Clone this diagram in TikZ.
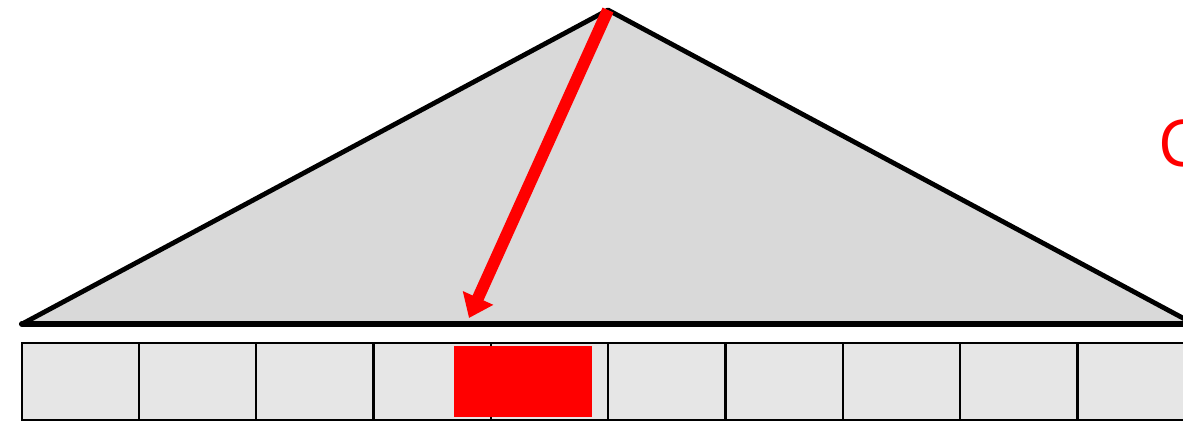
\documentclass[tikz,border=0pt]{standalone}
\usepackage{fontspec}
\setmainfont{Open Sans}
\usepackage{xcolor}
\usetikzlibrary{arrows.meta, positioning, calc}

\definecolor{cellgray}{HTML}{E6E6E6}
\definecolor{treegray}{HTML}{D9D9D9}

\begin{document}
\begin{tikzpicture}[
  x=0.025cm,
  y=-0.025cm,
  cell/.style={
    rectangle,
    draw,
    line width=1.7pt,
    fill=cellgray,
    anchor=north west,
    minimum width=2.933cm,
    minimum height=1.925cm,
    inner sep=0pt
  },
  slotbox/.style={
    rectangle,
    fill=red,
    anchor=north west,
    minimum width=3.45cm,
    minimum height=1.775cm,
    inner sep=0pt
  },
  tree/.style={
    draw,
    line width=3.4pt,
    fill=treegray,
    line join=round,
    line cap=round
  },
  pointer/.style={
    draw=red,
    line width=8.5pt,
    -{Triangle[width=0.8cm, length=0.55cm]}
  },
  redlabel/.style={
    text=red,
    anchor=west,
    inner sep=0pt,
    font=\fontsize{46}{50}\selectfont
  }
]
\useasboundingbox (0,0) rectangle (1183,421);
\clip (0,0) rectangle (1183,421);

% Cells of the array
\foreach \i in {0,...,9}
  \node[cell] (c\i) at ({20.5+117.3*\i},342) {};

% Selected slot
\node[slotbox] (slot) at (454,346) {};

% Tree triangle
\coordinate (top) at (608,10);
\coordinate (left) at (22,324);
\coordinate (right) at (1194,324);
\draw[tree] (left) -- (top) -- (right) -- cycle;
\draw[line width=4.4pt, line cap=round] (left) -- (right);

% Pointer into the array
\coordinate (tip) at (469,318);
\draw[pointer] (top) -- (tip);

% Cut-off label
\node[redlabel] (lbl) at (1158,143) {C};

\end{tikzpicture}
\end{document}
